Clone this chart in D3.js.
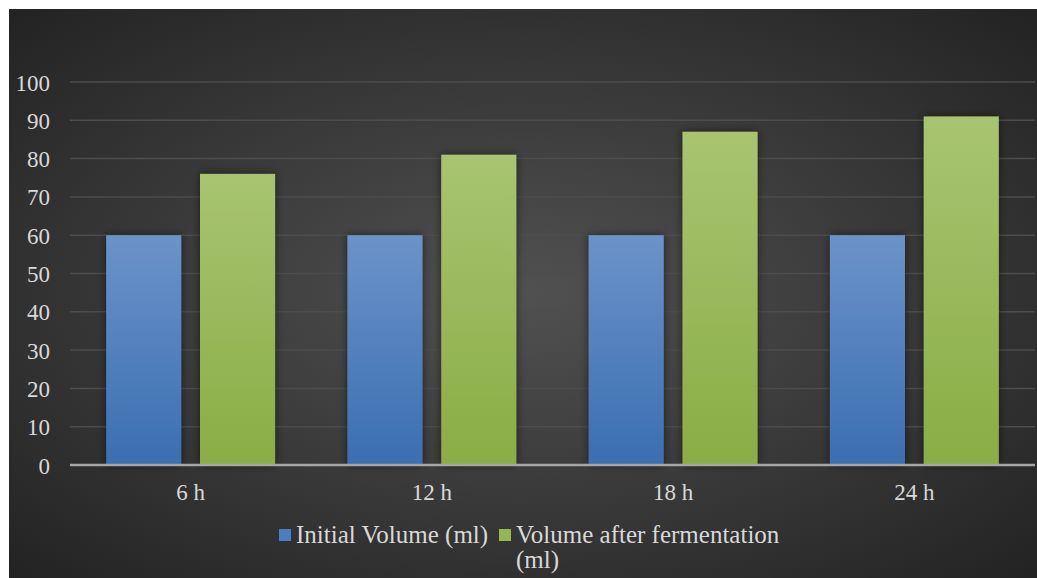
<!DOCTYPE html>
<html>
<head>
<meta charset="utf-8">
<script src="https://cdn.jsdelivr.net/npm/d3@7"></script>
<style>
  html, body { margin: 0; padding: 0; background: #ffffff; }
  svg { display: block; }
</style>
</head>
<body>
<svg id="chart" width="1037" height="578"></svg>
<script>
// Fermentation volume data
const categories = ["6 h", "12 h", "18 h", "24 h"];
const initialVolume = [60, 60, 60, 60];
const fermentedVolume = [76, 81, 87, 91];
const yTicks = [0, 10, 20, 30, 40, 50, 60, 70, 80, 90, 100];
const seriesNames = ["Initial Volume (ml)", "Volume after fermentation (ml)"];

const W = 1037, H = 578;
const svg = d3.select("#chart");
const defs = svg.append("defs");
const serif = "'Liberation Serif', 'Times New Roman', serif";

// dark radial background
const bg = defs.append("radialGradient").attr("id", "bg")
  .attr("cx", "50%").attr("cy", "50%").attr("r", "70%");
bg.append("stop").attr("offset", "0%").attr("stop-color", "#515151");
bg.append("stop").attr("offset", "100%").attr("stop-color", "#232323");

const blueGrad = defs.append("linearGradient").attr("id", "blueGrad")
  .attr("x1", 0).attr("y1", 0).attr("x2", 0).attr("y2", 1);
blueGrad.append("stop").attr("offset", "0%").attr("stop-color", "#6b93c9");
blueGrad.append("stop").attr("offset", "100%").attr("stop-color", "#3b6eb2");

const greenGrad = defs.append("linearGradient").attr("id", "greenGrad")
  .attr("x1", 0).attr("y1", 0).attr("x2", 0).attr("y2", 1);
greenGrad.append("stop").attr("offset", "0%").attr("stop-color", "#a8c471");
greenGrad.append("stop").attr("offset", "100%").attr("stop-color", "#8aad45");

const shadow = defs.append("filter").attr("id", "shadow")
  .attr("x", "-20%").attr("y", "-10%").attr("width", "140%").attr("height", "120%");
shadow.append("feDropShadow").attr("dx", 0).attr("dy", 0).attr("stdDeviation", 4)
  .attr("flood-color", "#000").attr("flood-opacity", 0.55);

svg.append("rect").attr("x", 9).attr("y", 9).attr("width", W - 9).attr("height", H - 9)
  .attr("fill", "url(#bg)");

const plot = { left: 70, right: 1035, top: 82, bottom: 465 };

const x0 = d3.scaleBand().domain(categories).range([plot.left, plot.right]).paddingInner(0.3).paddingOuter(0.15);
const x1 = d3.scaleBand().domain([0, 1]).range([0, x0.bandwidth()]).paddingInner(0.2);
const y = d3.scaleLinear().domain([0, 100]).range([plot.bottom, plot.top]);

// gridlines
svg.append("g").selectAll("line").data(yTicks.filter(d => d > 0)).join("line")
  .attr("x1", plot.left).attr("x2", plot.right)
  .attr("y1", d => y(d)).attr("y2", d => y(d))
  .attr("stroke", "#4d4d4d").attr("stroke-width", 1.5);

// y tick labels
const yAxis = svg.append("g").attr("transform", `translate(${plot.left - 20},0)`)
  .call(d3.axisLeft(y).tickValues(yTicks).tickSize(0).tickPadding(0));
yAxis.select(".domain").remove();
yAxis.selectAll("text")
  .attr("fill", "#d9d9d9").attr("font-family", serif)
  .attr("font-size", 23).attr("dy", "0.35em");

// bars
const groups = svg.append("g").selectAll("g").data(categories).join("g")
  .attr("transform", d => `translate(${x0(d)},0)`);
groups.append("rect")
  .attr("x", x1(0)).attr("width", x1.bandwidth())
  .attr("y", (d, i) => y(initialVolume[i]))
  .attr("height", (d, i) => y(0) - y(initialVolume[i]))
  .attr("fill", "url(#blueGrad)").attr("filter", "url(#shadow)");
groups.append("rect")
  .attr("x", x1(1)).attr("width", x1.bandwidth())
  .attr("y", (d, i) => y(fermentedVolume[i]))
  .attr("height", (d, i) => y(0) - y(fermentedVolume[i]))
  .attr("fill", "url(#greenGrad)").attr("filter", "url(#shadow)");

// x axis
const xAxis = svg.append("g").attr("transform", `translate(0,${plot.bottom})`)
  .call(d3.axisBottom(x0).tickSize(0).tickPadding(19));
xAxis.select(".domain").attr("stroke", "#a6a6a6").attr("stroke-width", 2.5)
  .attr("d", `M${plot.left},0H${plot.right}`);
xAxis.selectAll("text")
  .attr("fill", "#d9d9d9").attr("font-family", serif)
  .attr("font-size", 23);

// legend
const legend = svg.append("g");
legend.append("rect").attr("x", 279).attr("y", 529).attr("width", 12).attr("height", 12).attr("fill", "#4a7ec2");
legend.append("text").attr("x", 296).attr("y", 543).attr("fill", "#d9d9d9")
  .attr("font-family", serif).attr("font-size", 25).text(seriesNames[0]);
legend.append("rect").attr("x", 499).attr("y", 529).attr("width", 12).attr("height", 12).attr("fill", "#95b753");
const t2 = legend.append("text").attr("x", 516).attr("y", 543).attr("fill", "#d9d9d9")
  .attr("font-family", serif).attr("font-size", 25);
t2.append("tspan").attr("x", 516).text("Volume after fermentation");
t2.append("tspan").attr("x", 516).attr("dy", 25).text("(ml)");
</script>
</body>
</html>
